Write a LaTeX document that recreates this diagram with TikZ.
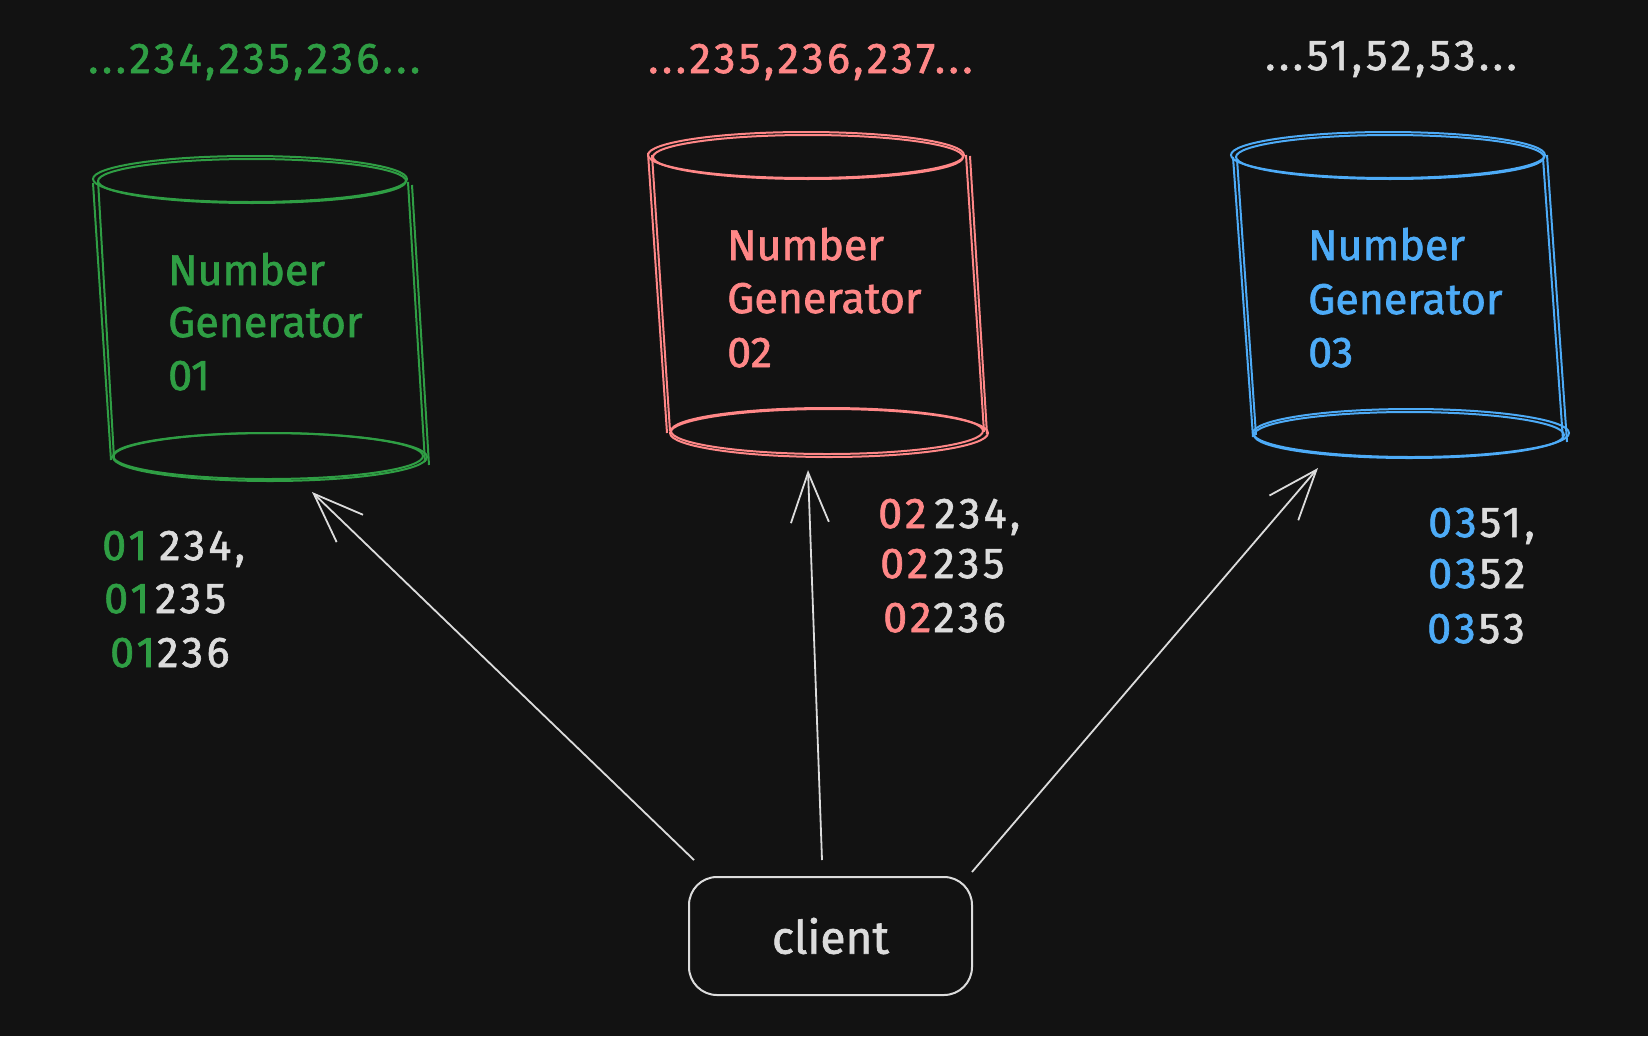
\documentclass[tikz,border=0pt]{standalone}
\usepackage{fontspec}
\setmainfont{Fira Sans}[FakeBold=1.5]
\usetikzlibrary{arrows.meta}
\definecolor{bg}{HTML}{121212}
\definecolor{cgreen}{HTML}{2F9E44}
\definecolor{cred}{HTML}{FF8787}
\definecolor{cblue}{HTML}{4DABF7}
\definecolor{cwhite}{HTML}{DCDCDC}
\begin{document}
\begin{tikzpicture}[x=1pt,y=-1pt,
  txt/.style={anchor=base west, inner sep=0pt, font=\fontsize{43}{52}\selectfont},
  num/.style={txt, font=\fontsize{43}{52}\selectfont\addfontfeatures{LetterSpace=8}},
  cyl/.style={line width=2pt},
  conn/.style={draw=cwhite, line width=1.8pt, -{Straight Barb[length=50pt,width=38pt,line width=1.8pt]}}]
\fill[bg] (0,0) rectangle (1648,1036);
\useasboundingbox (0,0) rectangle (1648,1036);

% ---------- cylinder 1 (green)
\begin{scope}[cyl, draw=cgreen]
\draw (250,179) ellipse [x radius=157, y radius=23];
\draw (252,181) ellipse [x radius=154, y radius=22];
\draw (270,457) ellipse [x radius=157, y radius=24];
\draw (268,456) ellipse [x radius=155, y radius=23];
\draw (93,183) -- (111,460);
\draw (98,180) -- (114,458);
\draw (408,182) -- (425,462);
\draw (412,185) -- (429,465);
\end{scope}
\node[txt, text=cgreen] (g1a) at (168,285) {Number};
\node[txt, text=cgreen] (g1b) at (168,337) {Generator};
\node[txt, text=cgreen] (g1c) at (168,390) {01};
\node[num, text=cgreen] (seq1) at (88,73) {...234,235,236...};
\node[num] (n1a) at (102,560) {\textcolor{cgreen}{01}\hspace{12pt}\textcolor{cwhite}{234,}};
\node[num] (n1b) at (104,613) {\textcolor{cgreen}{01}\hspace{6pt}\textcolor{cwhite}{235}};
\node[num] (n1c) at (110,667) {\textcolor{cgreen}{01}\hspace{2pt}\textcolor{cwhite}{236}};

% ---------- cylinder 2 (red)
\begin{scope}[cyl, draw=cred]
\draw (806,155) ellipse [x radius=158, y radius=23];
\draw (808,157) ellipse [x radius=155, y radius=22];
\draw (829,433) ellipse [x radius=159, y radius=24];
\draw (827,431) ellipse [x radius=156, y radius=23];
\draw (648,153) -- (667,433);
\draw (652,155) -- (670,431);
\draw (966,155) -- (984,432);
\draw (970,156) -- (987,434);
\end{scope}
\node[txt, text=cred] (g2a) at (727,260) {Number};
\node[txt, text=cred] (g2b) at (727,313) {Generator};
\node[txt, text=cred] (g2c) at (727,367) {02};
\node[num, text=cred] (seq2) at (648,73) {...235,236,237...};
\node[num] (n2a) at (878,528) {\textcolor{cred}{02}\hspace{8pt}\textcolor{cwhite}{234,}};
\node[num] (n2b) at (880,578) {\textcolor{cred}{02}\hspace{5pt}\textcolor{cwhite}{235}};
\node[num] (n2c) at (883,632) {\textcolor{cred}{02}\hspace{2pt}\textcolor{cwhite}{236}};

% ---------- cylinder 3 (blue)
\begin{scope}[cyl, draw=cblue]
\draw (1388,155) ellipse [x radius=157, y radius=23];
\draw (1390,157) ellipse [x radius=154, y radius=22];
\draw (1411,433) ellipse [x radius=158, y radius=24];
\draw (1409,435) ellipse [x radius=155, y radius=23];
\draw (1233,157) -- (1253,437);
\draw (1237,159) -- (1256,435);
\draw (1547,155) -- (1567,442);
\draw (1543,158) -- (1563,440);
\end{scope}
\node[txt, text=cblue] (g3a) at (1308,260) {Number};
\node[txt, text=cblue] (g3b) at (1308,314) {Generator};
\node[txt, text=cblue] (g3c) at (1308,367) {03};
\node[num, text=cwhite] (seq3) at (1265,70) {...51,52,53...};
\node[num] (n3a) at (1428,537) {\textcolor{cblue}{03}\hspace{3pt}\textcolor{cwhite}{51,}};
\node[num] (n3b) at (1428,588) {\textcolor{cblue}{03}\hspace{3pt}\textcolor{cwhite}{52}};
\node[num] (n3c) at (1427,643) {\textcolor{cblue}{03}\hspace{3pt}\textcolor{cwhite}{53}};

% ---------- client
\node[draw=cwhite, line width=2pt, rounded corners=28pt, minimum width=283pt,
      minimum height=118pt, inner sep=0pt, text=cwhite,
      font=\fontsize{46}{52}\selectfont] (client) at (830.5,936) {client};

% ---------- connectors
\coordinate (s1) at (694,860);
\coordinate (s2) at (822,860);
\coordinate (s3) at (972,872);
\coordinate (t1) at (312,492);
\coordinate (t2) at (808,470);
\coordinate (t3) at (1318,468);
\draw[conn] (s1) -- (t1);
\draw[conn] (s2) -- (t2);
\draw[conn] (s3) -- (t3);
\end{tikzpicture}
\end{document}
